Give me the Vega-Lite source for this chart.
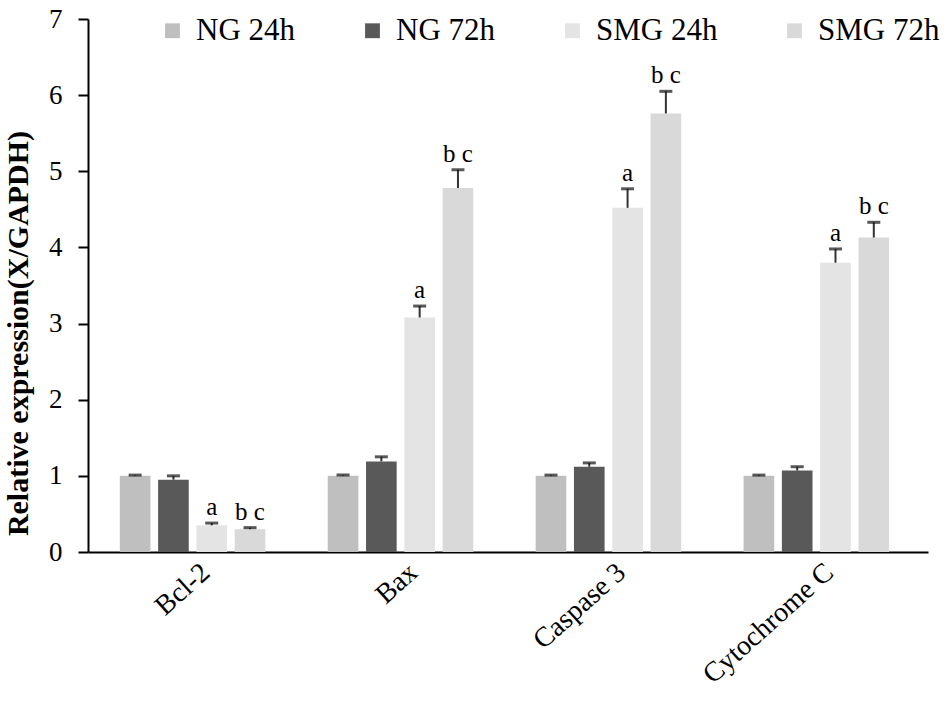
{
  "$schema": "https://vega.github.io/schema/vega-lite/v6.json",
  "autosize": {"type": "none"},
  "width": 840,
  "height": 533,
  "padding": {"left": 88, "top": 19, "right": 22, "bottom": 157},
  "background": "white",
  "config": {
    "view": {"stroke": null},
    "font": "Liberation Serif"
  },
  "data": {
    "values": [
      {"gene": "Bcl-2", "group": "NG 24h", "value": 1.0, "upper": 1.01, "label": ""},
      {"gene": "Bcl-2", "group": "NG 72h", "value": 0.95, "upper": 1.0, "label": ""},
      {"gene": "Bcl-2", "group": "SMG 24h", "value": 0.35, "upper": 0.38, "label": "a"},
      {"gene": "Bcl-2", "group": "SMG 72h", "value": 0.30, "upper": 0.32, "label": "b c"},
      {"gene": "Bax", "group": "NG 24h", "value": 1.0, "upper": 1.01, "label": ""},
      {"gene": "Bax", "group": "NG 72h", "value": 1.19, "upper": 1.25, "label": ""},
      {"gene": "Bax", "group": "SMG 24h", "value": 3.08, "upper": 3.23, "label": "a"},
      {"gene": "Bax", "group": "SMG 72h", "value": 4.78, "upper": 5.02, "label": "b c"},
      {"gene": "Caspase 3", "group": "NG 24h", "value": 1.0, "upper": 1.01, "label": ""},
      {"gene": "Caspase 3", "group": "NG 72h", "value": 1.12, "upper": 1.17, "label": ""},
      {"gene": "Caspase 3", "group": "SMG 24h", "value": 4.52, "upper": 4.77, "label": "a"},
      {"gene": "Caspase 3", "group": "SMG 72h", "value": 5.76, "upper": 6.05, "label": "b c"},
      {"gene": "Cytochrome C", "group": "NG 24h", "value": 1.0, "upper": 1.01, "label": ""},
      {"gene": "Cytochrome C", "group": "NG 72h", "value": 1.07, "upper": 1.12, "label": ""},
      {"gene": "Cytochrome C", "group": "SMG 24h", "value": 3.80, "upper": 3.98, "label": "a"},
      {"gene": "Cytochrome C", "group": "SMG 72h", "value": 4.13, "upper": 4.33, "label": "b c"}
    ]
  },
  "encoding": {
    "x": {
      "field": "gene",
      "type": "nominal",
      "sort": ["Bcl-2", "Bax", "Caspase 3", "Cytochrome C"],
      "scale": {"paddingInner": 0.3, "paddingOuter": 0.17, "align": 0.45},
      "axis": {
        "title": null,
        "labelAngle": -42,
        "labelFontSize": 28,
        "labelColor": "#000000",
        "labelPadding": 6,
        "labelOffset": 4,
        "ticks": false,
        "domainColor": "#000000",
        "domainWidth": 2
      }
    },
    "xOffset": {
      "field": "group",
      "type": "nominal",
      "sort": ["NG 24h", "NG 72h", "SMG 24h", "SMG 72h"],
      "scale": {"paddingInner": 0.2}
    }
  },
  "layer": [
    {
      "mark": {"type": "bar"},
      "encoding": {
        "y": {
          "field": "value",
          "type": "quantitative",
          "scale": {"domain": [0, 7], "nice": false},
          "axis": {
            "title": "Relative expression(X/GAPDH)",
            "titleFontSize": 30,
            "titleFontWeight": "bold",
            "titleColor": "#000000",
            "titleAngle": -90,
            "titleBaseline": "middle",
            "titleAlign": "center",
            "titleX": -70,
            "titleY": 314,
            "values": [0, 1, 2, 3, 4, 5, 6, 7],
            "format": "d",
            "grid": false,
            "labelFontSize": 27,
            "labelColor": "#000000",
            "labelPadding": 16,
            "tickSize": 10,
            "tickColor": "#000000",
            "tickWidth": 2,
            "domainColor": "#000000",
            "domainWidth": 2
          }
        },
        "color": {
          "field": "group",
          "type": "nominal",
          "scale": {
            "domain": ["NG 24h", "NG 72h", "SMG 24h", "SMG 72h"],
            "range": ["#bfbfbf", "#595959", "#e4e4e4", "#d9d9d9"]
          },
          "legend": {
            "title": null,
            "orient": "none",
            "direction": "horizontal",
            "legendX": 69,
            "legendY": -4,
            "symbolType": "square",
            "symbolSize": 220,
            "symbolStrokeWidth": 0,
            "labelFontSize": 31,
            "labelColor": "#000000",
            "labelOffset": 8,
            "columnPadding": 61
          }
        }
      }
    },
    {
      "mark": {"type": "rule", "color": "#333333", "strokeWidth": 2},
      "encoding": {
        "y": {"field": "value", "type": "quantitative"},
        "y2": {"field": "upper"}
      }
    },
    {
      "mark": {"type": "tick", "color": "#111111", "thickness": 3, "size": 13},
      "encoding": {
        "y": {"field": "upper", "type": "quantitative"}
      }
    },
    {
      "mark": {"type": "text", "fontSize": 25, "baseline": "bottom", "dy": -3, "color": "#000000"},
      "encoding": {
        "y": {"field": "upper", "type": "quantitative"},
        "text": {"field": "label"}
      }
    }
  ]
}
